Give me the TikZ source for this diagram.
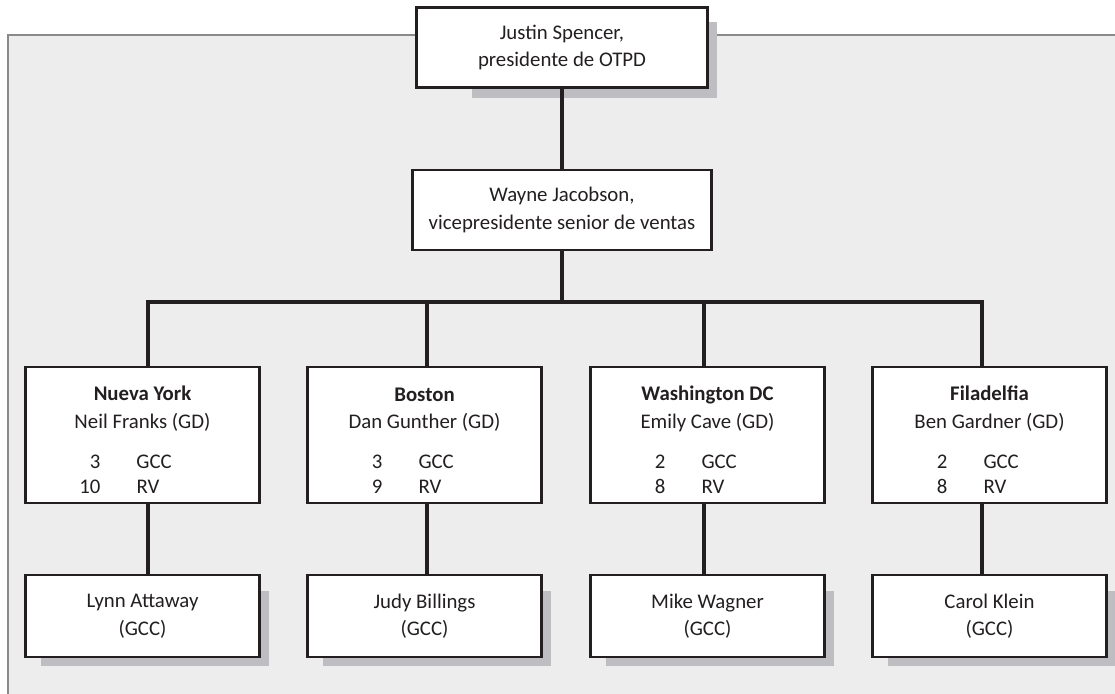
\documentclass[tikz,border=0pt]{standalone}
\usepackage{fontspec}
\setmainfont{Carlito}
\usepackage{xcolor}
\usetikzlibrary{calc, backgrounds}
\definecolor{PanelGray}{HTML}{EDEDED}
\definecolor{FrameGray}{HTML}{8A8A8A}
\definecolor{ShadowGray}{HTML}{BEBEC2}
\definecolor{InkBlack}{HTML}{231F20}
\newcommand{\headcount}[2]{%
  \makebox[0.5cm][r]{#1}\hspace{0.9cm}\makebox[1.7cm][l]{GCC}\\[-2pt]%
  \makebox[0.5cm][r]{#2}\hspace{0.9cm}\makebox[1.7cm][l]{RV}}
\newcommand{\cityname}[1]{\rule{0pt}{17.5pt}\textbf{#1}}

\begin{document}
\begin{tikzpicture}[x=0.025cm, y=-0.025cm,
      box/.style={draw=InkBlack, line width=2.1pt, fill=white, align=center, inner sep=0pt,
                  text=InkBlack, font=\fontsize{14.8}{19.6}\selectfont},
      headbox/.style={box, minimum width=7.25cm, minimum height=2.0cm},
      vpbox/.style={box, minimum width=7.45cm, minimum height=2.0cm},
      citybox/.style={box, minimum width=5.85cm, minimum height=3.4cm},
      repbox/.style={box, minimum width=5.85cm, minimum height=2.05cm},
      link/.style={draw=InkBlack, line width=2.4pt}]
      \useasboundingbox (0,0) rectangle (1115,694);
      % Top of the chart
      \node[headbox] (jus) at (562, 47.5) {Justin Spencer,\\presidente de OTPD};
      \node[vpbox]   (vp)  at (562, 210)  {Wayne Jacobson,\\vicepresidente senior de ventas};
      % Regional offices
      \node[citybox] (ny)   at (142.5, 435) {\cityname{Nueva York}\\Neil Franks (GD)\\[9pt]\headcount{3}{10}};
      \node[citybox] (bos)  at (424.5, 435) {\cityname{Boston}\\Dan Gunther (GD)\\[9pt]\headcount{3}{9}};
      \node[citybox] (was)  at (707.5, 435) {\cityname{Washington DC}\\Emily Cave (GD)\\[9pt]\headcount{2}{8}};
      \node[citybox] (fila) at (989.5, 435) {\cityname{Filadelfia}\\Ben Gardner (GD)\\[9pt]\headcount{2}{8}};
      % Account managers
      \node[repbox] (lynn)  at (142.5, 616) {Lynn Attaway\\(GCC)};
      \node[repbox] (judy)  at (424.5, 616) {Judy Billings\\(GCC)};
      \node[repbox] (mike)  at (707.5, 616) {Mike Wagner\\(GCC)};
      \node[repbox] (carol) at (989.5, 616) {Carol Klein\\(GCC)};
      % Panel, frame and shadows behind the boxes
      \begin{scope}[on background layer]
        \fill[PanelGray] (8,35) rectangle (1115,694);
        \draw[FrameGray, line width=2pt] (8,694) -- (8,35) -- (1115,35);
        \fill[ShadowGray] ($(jus.south west)+(57,9)$) rectangle ($(jus.north east)+(8,16)$);
        \foreach \n in {lynn, judy, mike, carol}
          \fill[ShadowGray] ($(\n.south west)+(17,8)$) rectangle ($(\n.north east)+(8,17)$);
      \end{scope}
      % Connectors
      \coordinate (bus) at (562, 302);
      \draw[link] (jus) -- (vp);
      \draw[link] (vp) -- (bus);
      \draw[link] ([xshift=0.14cm]ny.north) |- (bus) -| ([xshift=-0.19cm]fila.north);
      \draw[link] ([xshift=0.06cm]bos.north) -- ([xshift=0.06cm]bos.north |- bus);
      \draw[link] ([xshift=-0.09cm]was.north) -- ([xshift=-0.09cm]was.north |- bus);
      \draw[link] ([xshift=0.14cm]ny.south) -- ([xshift=0.14cm]lynn.north);
      \draw[link] ([xshift=0.06cm]bos.south) -- ([xshift=0.06cm]judy.north);
      \draw[link] ([xshift=-0.09cm]was.south) -- ([xshift=-0.09cm]mike.north);
      \draw[link] ([xshift=-0.19cm]fila.south) -- ([xshift=-0.19cm]carol.north);
    \end{tikzpicture}
\end{document}
